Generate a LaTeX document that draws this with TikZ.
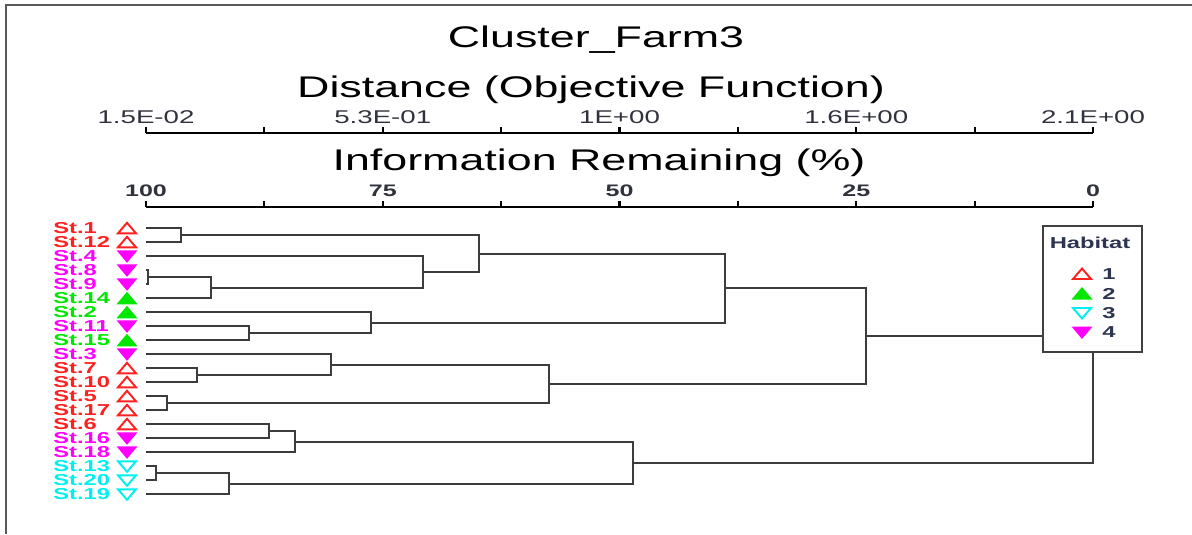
\documentclass[tikz,border=0pt]{standalone}
\usepackage{fontspec}
\setmainfont{Liberation Sans}[FakeStretch=1.5]
\definecolor{hred}{HTML}{FF2020}
\definecolor{hgreen}{HTML}{00E800}
\definecolor{hcyan}{HTML}{00F0F0}
\definecolor{hmag}{HTML}{FF00FF}
\definecolor{linegray}{HTML}{3C3C3C}
\definecolor{inkgray}{HTML}{30323C}
\definecolor{inkblue}{HTML}{2E3550}
\tikzset{
  habA/.pic={\draw[hred, line width=1.1pt] (-9,5) -- (9,5) -- (0,-5.5) -- cycle;},
  habB/.pic={\fill[hgreen] (-10.5,6) -- (10.5,6) -- (0,-6.5) -- cycle;},
  habC/.pic={\draw[hcyan, line width=1.1pt] (-9,-5) -- (9,-5) -- (0,5.5) -- cycle;},
  habD/.pic={\fill[hmag] (-10.5,-6) -- (10.5,-6) -- (0,6.5) -- cycle;}
}
\begin{document}
\begin{tikzpicture}[x=0.02cm, y=-0.02cm,
  branch/.style={draw=linegray, line width=1.3pt},
  axisline/.style={draw=black, line width=1.2pt},
  ttl/.style={anchor=base, inner sep=0pt, font=\fontsize{17}{20}\selectfont},
  dlab/.style={anchor=base, inner sep=0pt, text=inkgray, font=\fontsize{10.5}{12}\selectfont},
  plab/.style={anchor=base, inner sep=0pt, text=inkgray, font=\fontsize{9.5}{11}\selectfont\bfseries},
  leaf/.style={anchor=west, inner sep=0pt, font=\fontsize{9}{9}\selectfont\bfseries},
  legbox/.style={draw=gray!50!black, line width=1.5pt, fill=white, inner sep=0pt,
                 minimum width=1.98cm, minimum height=2.52cm},
  legtxt/.style={inner sep=0pt, text=inkblue, font=\fontsize{9}{10}\selectfont\bfseries}
                    ]
\useasboundingbox (0,0) rectangle (1192,534);
\draw[gray!70!black, line width=1pt] (6,534) -- (6,5) -- (1192,5);
% titles
\node[ttl] (title) at (596,47) {Cluster\_Farm3};
\node[ttl] (dtitle) at (591,97) {Distance (Objective Function)};
\node[ttl] (ptitle) at (599,170) {Information Remaining (\%)};
% axes
\draw[axisline] (146,133) -- (1093,133);
\draw[axisline] (146,207) -- (1093,207);
\foreach \k in {0,...,8}{
  \draw[axisline] (146+118.375*\k,133) -- ++(0,-6);
  \draw[axisline] (146+118.375*\k,207) -- ++(0,-6);
}
\foreach \k/\t in {0/1.5E-02, 2/5.3E-01, 4/1E+00, 6/1.6E+00, 8/2.1E+00}
  \node[dlab] (d\k) at (146+118.375*\k,123) {\t};
\foreach \k/\t in {0/100, 2/75, 4/50, 6/25, 8/0}
  \node[plab] (p\k) at (146+118.375*\k,196) {\t};
% leaves
\foreach \n/\c/\h [count=\i from 0] in {1/hred/habA, 12/hred/habA, 4/hmag/habD,
    8/hmag/habD, 9/hmag/habD, 14/hgreen/habB, 2/hgreen/habB, 11/hmag/habD,
    15/hgreen/habB, 3/hmag/habD, 7/hred/habA, 10/hred/habA, 5/hred/habA,
    17/hred/habA, 6/hred/habA, 16/hmag/habD, 18/hmag/habD, 13/hcyan/habC,
    20/hcyan/habC, 19/hcyan/habC}{
  \node[leaf, text=\c] (t\n) at (53,228.3+14*\i) {St.\n};
  \pic (k\n) at (127,228.3+14*\i) {\h};
  \coordinate (s\n) at (146,228.3+14*\i);
}
% merges
\coordinate (m1) at (181,235.3);
\coordinate (m2) at (148,277.3);
\coordinate (m3) at (211,287.8);
\coordinate (m4) at (423,272.05);
\coordinate (m5) at (479,253.7);
\coordinate (m6) at (249,333.3);
\coordinate (m7) at (371,322.8);
\coordinate (m8) at (725,288.25);
\coordinate (m9) at (197,375.3);
\coordinate (m10) at (331,364.8);
\coordinate (m11) at (167,403.3);
\coordinate (m12) at (549,384.05);
\coordinate (m13) at (866,336.15);
\coordinate (m14) at (269,431.3);
\coordinate (m15) at (295,441.8);
\coordinate (m16) at (156,473.3);
\coordinate (m17) at (229,483.8);
\coordinate (m18) at (633,462.8);
\coordinate (m19) at (1093,399.5);
%
\path[branch] (s1) -| (m1) |- (s12);
\path[branch] (s8) -| (m2) |- (s9);
\path[branch] (m2) -| (m3) |- (s14);
\path[branch] (s4) -| (m4) |- (m3);
\path[branch] (m1) -| (m5) |- (m4);
\path[branch] (s11) -| (m6) |- (s15);
\path[branch] (s2) -| (m7) |- (m6);
\path[branch] (m5) -| (m8) |- (m7);
\path[branch] (s7) -| (m9) |- (s10);
\path[branch] (s3) -| (m10) |- (m9);
\path[branch] (s5) -| (m11) |- (s17);
\path[branch] (m10) -| (m12) |- (m11);
\path[branch] (m8) -| (m13) |- (m12);
\path[branch] (s6) -| (m14) |- (s16);
\path[branch] (m14) -| (m15) |- (s18);
\path[branch] (s13) -| (m16) |- (s20);
\path[branch] (m16) -| (m17) |- (s19);
\path[branch] (m15) -| (m18) |- (m17);
\path[branch] (m13) -| (m19) |- (m18);
% legend
\node[legbox] (legend) at (1092.5,289) {};
\node[legtxt] (habt) at (1090,243) {Habitat};
\foreach \h/\n/\yy in {habA/1/274, habB/2/293.5, habC/3/313, habD/4/332.5}{
  \pic (g\n) at (1082,\yy) {\h};
  \node[legtxt, anchor=west] (n\n) at (1102,\yy) {\n};
}
\end{tikzpicture}
\end{document}
